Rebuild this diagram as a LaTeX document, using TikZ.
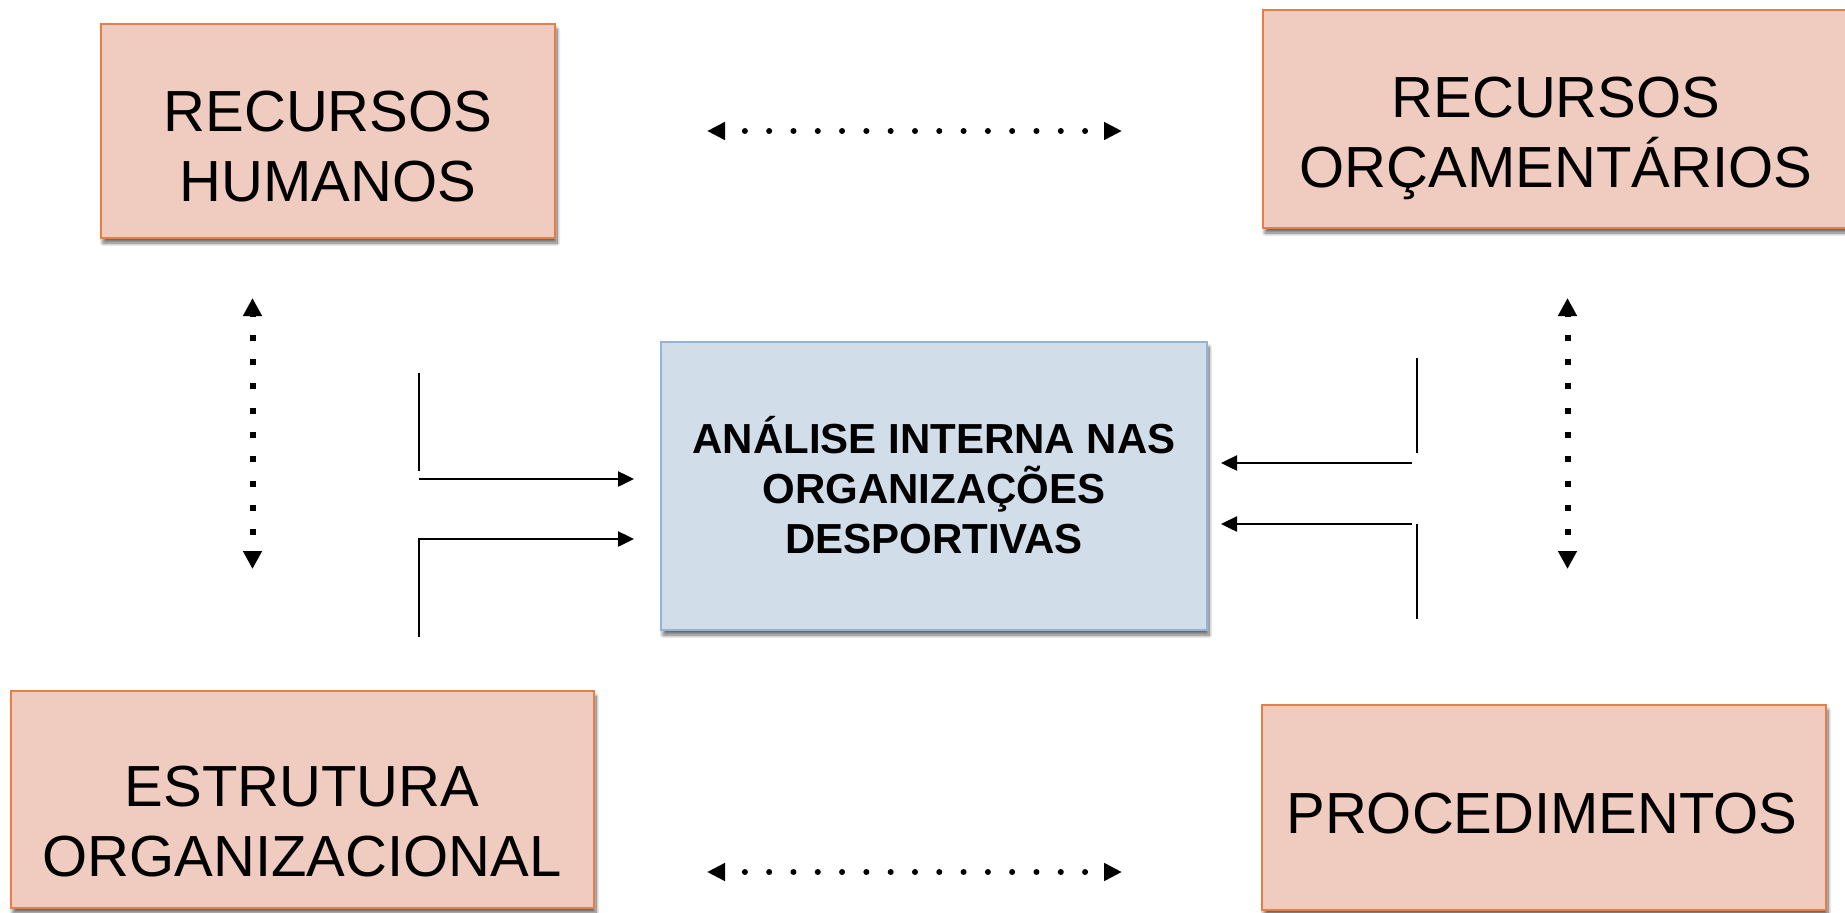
\documentclass[tikz,border=0pt]{standalone}
\usepackage{fontspec}
\setmainfont{Liberation Sans}
\usetikzlibrary{arrows.meta,shadows.blur}
\definecolor{pinkfill}{RGB}{240,204,192}
\definecolor{pinkdraw}{RGB}{228,128,70}
\definecolor{bluefill}{RGB}{209,222,234}
\definecolor{bluedraw}{RGB}{148,180,212}
\newcommand\stacklines[1]{\vtop{\lineskiplimit=-1000pt\halign{\hfil##\hfil\cr#1\crcr}}}
\tikzset{
  boxshadow/.style={blur shadow={shadow xshift=2pt,shadow yshift=-5pt,shadow blur radius=3.5pt,shadow blur steps=12,shadow opacity=60}},
  pinkbox/.style={draw=pinkdraw,fill=pinkfill,line width=2pt,inner sep=0pt,boxshadow},
  bluebox/.style={draw=bluedraw,fill=bluefill,line width=2pt,inner sep=0pt,boxshadow},
  bigtext/.style={anchor=base,inner sep=0pt,font=\fontsize{58}{70}\selectfont},
  midtext/.style={anchor=base,inner sep=0pt,font=\fontsize{42}{50}\selectfont\bfseries},
  plainline/.style={line width=2pt,black},
  arrowline/.style={line width=2.5pt,black,-{Triangle[length=16pt,width=15pt]}},
  hdots/.style={line width=6pt,line cap=round,dash pattern=on 0pt off 24.3pt,dash phase=3.3pt,
    {Triangle[length=18pt,width=17pt]}-{Triangle[length=18pt,width=17pt]}},
  vdots/.style={line width=6pt,line cap=butt,dash pattern=on 6pt off 18.3pt,dash phase=4.3pt,
    {Triangle[length=18pt,width=18pt]}-{Triangle[length=18pt,width=18pt]}}
}
\begin{document}
\begin{tikzpicture}[x=1pt,y=-1pt]
\useasboundingbox (0,0) rectangle (1845,913);
% boxes
\node[pinkbox,minimum width=454pt,minimum height=214pt] (rh) at (328,131) {};
\node[pinkbox,minimum width=586pt,minimum height=218pt] (ro) at (1556,119) {};
\node[pinkbox,minimum width=583pt,minimum height=217pt] (eo) at (302.5,799.5) {};
\node[pinkbox,minimum width=564pt,minimum height=205pt] (pr) at (1544,807.5) {};
\node[bluebox,minimum width=546pt,minimum height=288pt] (ai) at (934,486) {};
% texts
\node[bigtext] (rhT) at (328,131) {\stacklines{RECURSOS\cr HUMANOS}};
\node[bigtext] (roT) at (1556,117) {\stacklines{RECURSOS\cr ORÇAMENTÁRIOS}};
\node[bigtext] (eoT) at (302,806) {\stacklines{ESTRUTURA\cr ORGANIZACIONAL}};
\node[bigtext] (prT) at (1542,833) {PROCEDIMENTOS};
\node[midtext] (aiT) at (934,453) {\stacklines{ANÁLISE INTERNA NAS\cr ORGANIZAÇÕES\cr DESPORTIVAS}};
% coordinates for free connectors
\coordinate (lv1a) at (419,373); \coordinate (lv1b) at (419,471);
\coordinate (la1s) at (419,479); \coordinate (la1e) at (634,479);
\coordinate (la2s) at (419,637); \coordinate (la2e) at (634,539);
\coordinate (rv1a) at (1417,358); \coordinate (rv1b) at (1417,453);
\coordinate (ra1s) at (1412,463); \coordinate (ra1e) at (1221,463);
\coordinate (ra2s) at (1412,524); \coordinate (ra2e) at (1221,524);
\coordinate (rv2a) at (1417,524); \coordinate (rv2b) at (1417,619);
\coordinate (htA) at (707,131); \coordinate (htB) at (1122,131);
\coordinate (hbA) at (707,872); \coordinate (hbB) at (1122,872);
\coordinate (vlA) at (252.5,298); \coordinate (vlB) at (252.5,569);
\coordinate (vrA) at (1567.5,298); \coordinate (vrB) at (1567.5,569);
% solid connectors
\draw[plainline] (lv1a) -- (lv1b);
\draw[arrowline] (la1s) -- (la1e);
\draw[arrowline] (la2s) |- (la2e);
\draw[plainline] (rv1a) -- (rv1b);
\draw[arrowline] (ra1s) -- (ra1e);
\draw[arrowline] (ra2s) -- (ra2e);
\draw[plainline] (rv2a) -- (rv2b);
% dotted double arrows
\draw[hdots] (htA) -- (htB);
\draw[hdots] (hbA) -- (hbB);
\draw[vdots] (vlA) -- (vlB);
\draw[vdots] (vrA) -- (vrB);
\end{tikzpicture}
\end{document}
